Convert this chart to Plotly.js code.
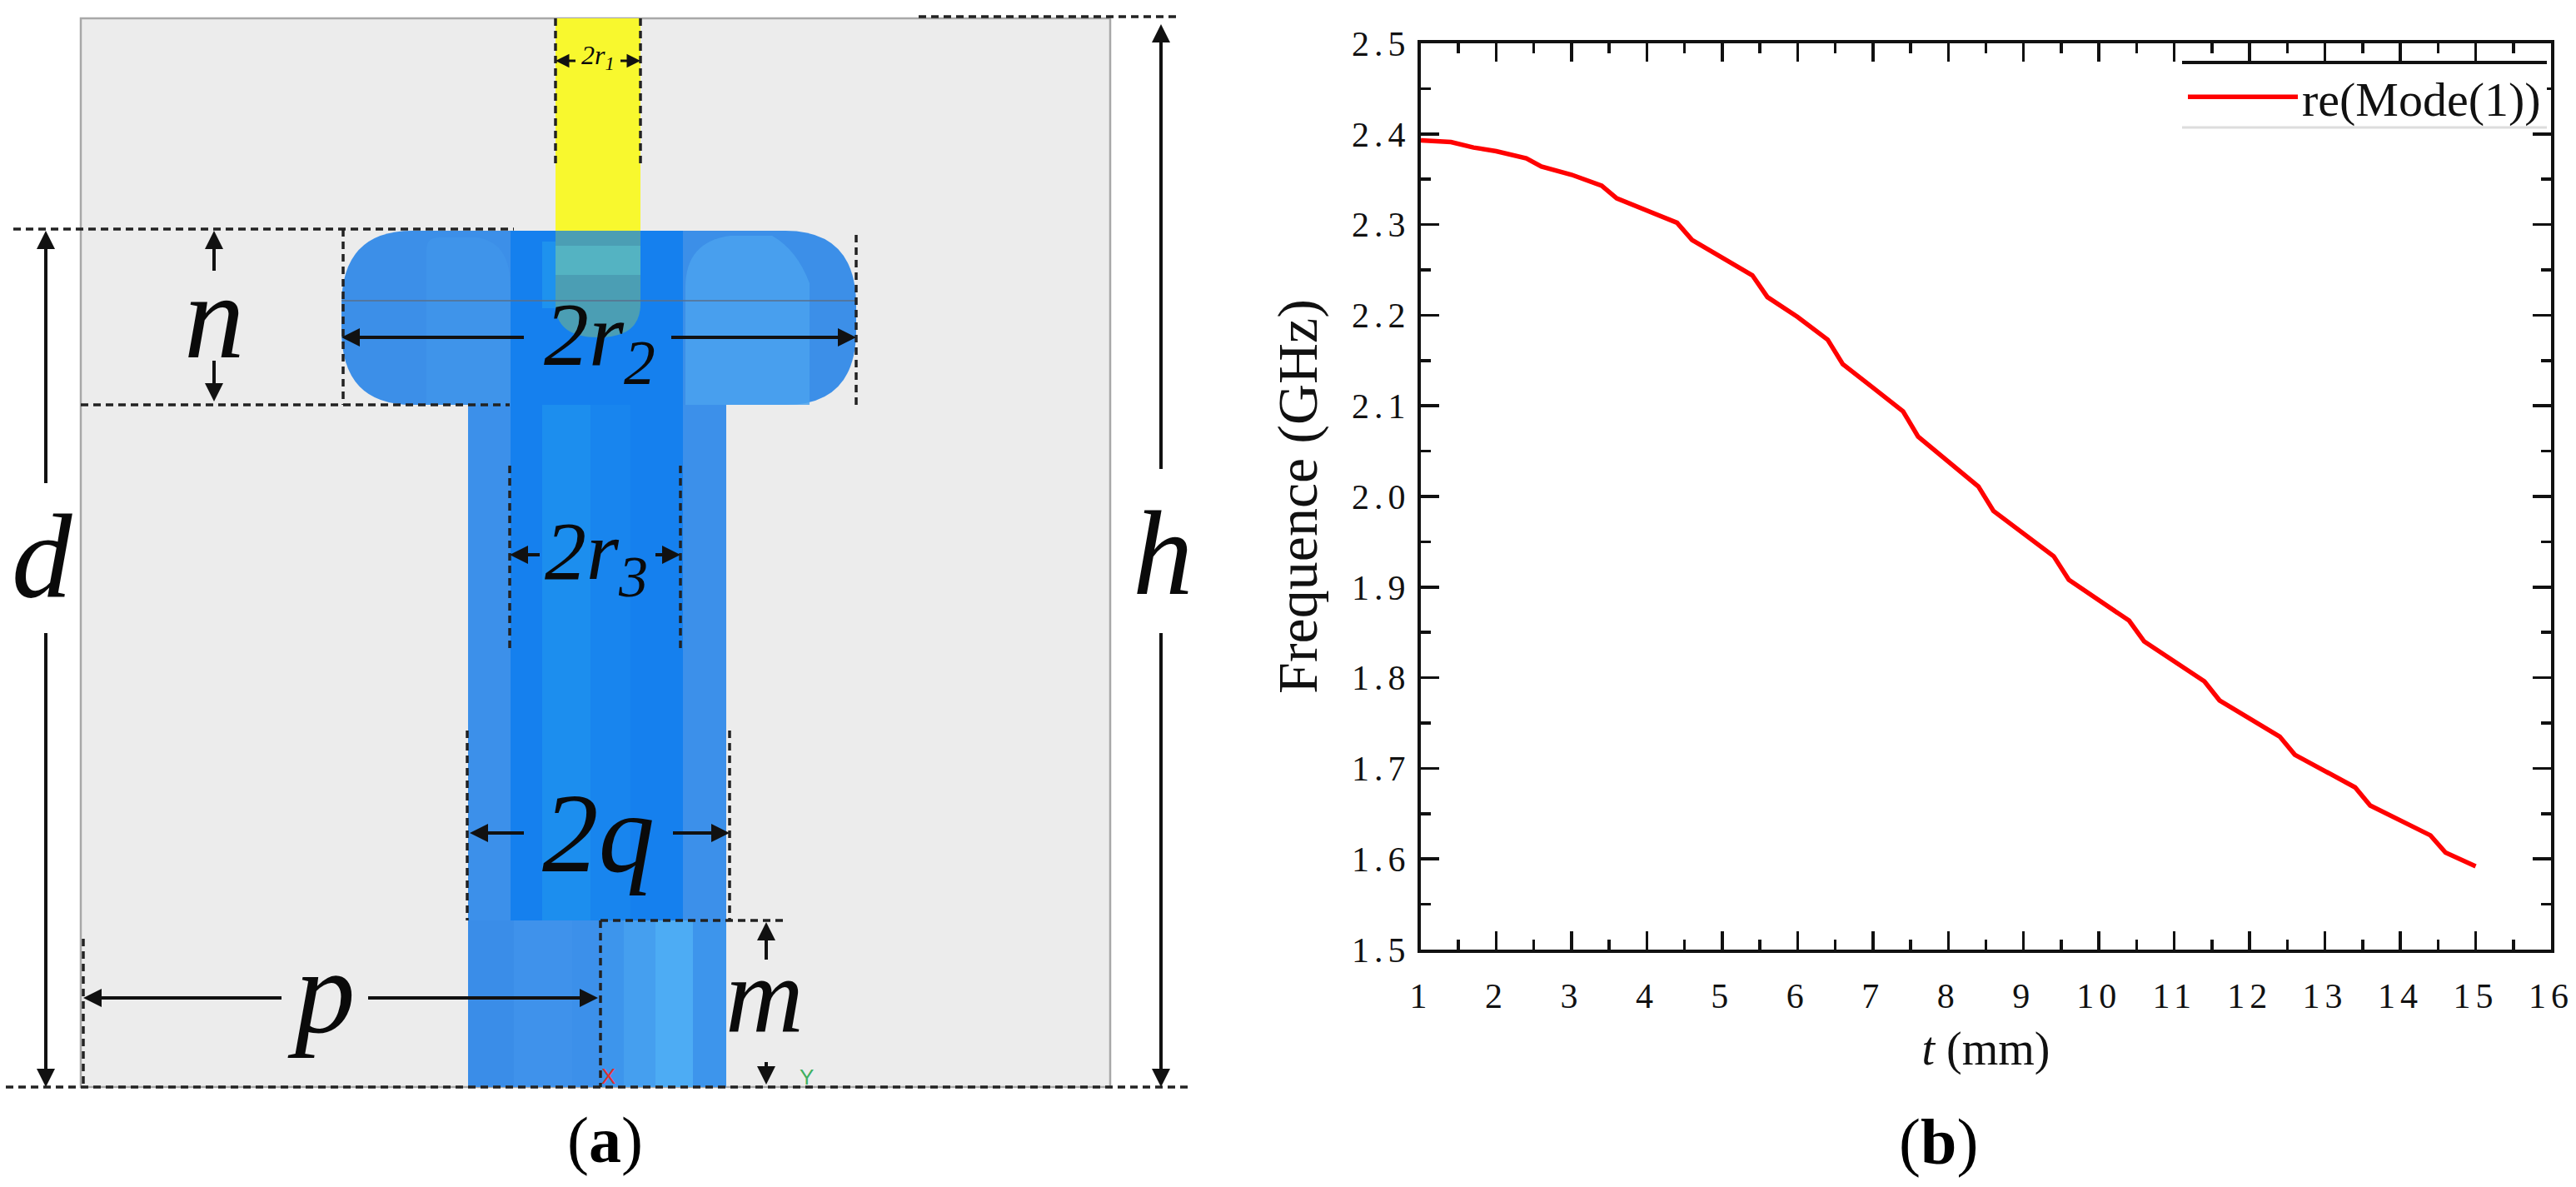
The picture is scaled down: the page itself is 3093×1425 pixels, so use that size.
<!DOCTYPE html>
<html><head><meta charset="utf-8">
<script src="https://cdn.plot.ly/plotly-3.0.1.min.js"></script>
<style>
html,body{margin:0;padding:0;background:#fff}
#g{width:3093px;height:1425px}
.xtick text,.ytick text{letter-spacing:6px}
</style></head><body><div id="g"></div>
<script>
const tValues=[1,1.4,1.7,2,2.4,2.6,3,3.4,3.6,4,4.4,4.6,5,5.4,5.6,6,6.4,6.6,7,7.4,7.6,8,8.4,8.6,9,9.4,9.6,10,10.4,10.6,11,11.4,11.6,12,12.4,12.6,13,13.4,13.6,14,14.4,14.6,15];
const freqValues=[2.393,2.391,2.385,2.381,2.373,2.364,2.355,2.343,2.329,2.316,2.302,2.283,2.264,2.244,2.220,2.198,2.173,2.146,2.120,2.094,2.066,2.039,2.011,1.984,1.959,1.934,1.908,1.886,1.863,1.840,1.818,1.796,1.775,1.755,1.735,1.715,1.697,1.679,1.659,1.642,1.626,1.607,1.592];
const seriesName='re(Mode(1))';
const xTitle='<i>t</i> (mm)';
const yTitle='Frequence (GHz)';

const W=3093,H=1425,SERIF='"Liberation Serif","Times New Roman",serif';
const DX=-3;
const s2=o=>Object.assign({xref:'x2',yref:'y2',layer:'above'},o);
const rect=(x0,y0,x1,y1,c,op)=>s2({type:'rect',x0:x0+DX,y0,x1:x1+DX,y1,fillcolor:c,opacity:op==null?1:op,line:{width:0}});
const path=(p,c,op)=>s2({type:'path',path:p,fillcolor:c,opacity:op==null?1:op,line:{width:0}});
const dash=(x0,y0,x1,y1)=>s2({type:'line',x0:x0+DX,y0,x1:x1+DX,y1,line:{color:'#222',width:3.5,dash:'9px,6px'}});
const rr=(x0,y0,x1,y1,rx,ry)=>`M${x0+rx},${y0} L${x1-rx},${y0} Q${x1},${y0} ${x1},${y0+ry} L${x1},${y1-ry} Q${x1},${y1} ${x1-rx},${y1} L${x0+rx},${y1} Q${x0},${y1} ${x0},${y1-ry} L${x0},${y0+ry} Q${x0},${y0} ${x0+rx},${y0} Z`;

const shapes=[
 rect(100,22,1336,1305,'#ececec'),
 s2({type:'rect',x0:97,y0:22,x1:1333,y1:1305,line:{color:'#a8a8a8',width:2.5}}),
 rect(670,22,772,290,'#f8f82e'),
 rect(565,486,875,1305,'#3c90ea'),
 rect(726,1105,875,1305,'#3d95ec'),
 rect(752,1105,790,1305,'#459fef'),
 rect(790,1105,835,1305,'#4dacf4'),
 rect(565,1105,620,1305,'#3a8de8'),
 rect(620,1105,690,1305,'#3f92eb'),
 path(rr(410,277,1028,486,85,90),'#3c8fe8'),
 path(`M512,300 Q512,285 527,285 L572,285 Q613,290 613,345 L613,486 L512,486 Z`,'#4095ea',0.8),
 path(`M823,486 L823,345 Q823,290 877,283 L927,283 Q957,300 972,340 L972,486 Z`,'#4aa2ee',0.85),
 rect(616,277,823,1105,'#1580ee'),
 rect(654,486,712,1105,'#1c8eee'),
 rect(712,486,760,1105,'#1885ee'),
 rect(654,290,772,370,'#1e92ee'),
 path(`M667,277 L769,277 L769,365 Q769,405 718,405 Q667,405 667,365 Z`,'#4b9eb4'),
 rect(670,295,772,330,'#58bcc8',0.7),
 s2({type:'line',x0:410,y0:361,x1:1028,y1:361,line:{color:'#5a6f8a',width:1.5}}),
 dash(1106,20,1418,20),dash(10,1305,1433,1305),
 dash(670,22,670,202),dash(772,22,772,202),
 dash(19,275,620,275),dash(100,486,615,486),
 dash(415,275,415,486),dash(1031,282,1031,486),
 dash(615,559,615,784),dash(820,559,820,784),
 dash(564,877,564,1105),dash(879,877,879,1105),
 dash(724,1105,947,1105),dash(724,1105,724,1305),
 dash(103,1127,103,1305),
 {type:'rect',xref:'paper',yref:'paper',x0:2620/W,x1:3058/W,y0:1-75/H,y1:1-153/H,fillcolor:'#fff',line:{width:0},layer:'above'},
 {type:'line',xref:'paper',yref:'paper',x0:2620/W,x1:3058/W,y0:1-75/H,y1:1-75/H,line:{color:'#111',width:4}},
 {type:'line',xref:'paper',yref:'paper',x0:2620/W,x1:3058/W,y0:1-153/H,y1:1-153/H,line:{color:'#ddd',width:3}},
];

const arrow=(x0,y0,x1,y1,w)=>({xref:'x2',yref:'y2',axref:'x2',ayref:'y2',x:x1+DX,y:y1,ax:x0+DX,ay:y0,text:' ',showarrow:true,arrowhead:2,arrowsize:1.1,arrowwidth:w||4,arrowcolor:'#111',standoff:0,startstandoff:0});
const lbl=(x,y,t,size)=>({xref:'x2',yref:'y2',x:x+DX,y,text:t,showarrow:false,xanchor:'center',yanchor:'middle',font:{family:SERIF,size,color:'#0a0a0a'}});
const annotations=[
 arrow(58,590,58,277),arrow(58,750,58,1305),
 arrow(1397,573,1397,29),arrow(1397,750,1397,1305),
 arrow(260,335,260,277),arrow(260,423,260,482),
 arrow(635,405,413,405),arrow(806,405,1031,405),
 arrow(654,666,615,666),arrow(787,666,820,666),
 arrow(635,1000,567,1000),arrow(808,1000,879,1000),
 arrow(923,1162,923,1107),arrow(923,1265,923,1302),
 arrow(344,1198,103,1198),arrow(442,1198,721,1198),
 arrow(697,73,670,73,3),arrow(745,73,772,73,3),
 lbl(53,668,'<i>d</i>',145),lbl(1399,664,'<i>h</i>',145),
 lbl(260,380,'<i>n</i>',145),lbl(389,1190,'<i>p</i>',145),
 lbl(921,1195,'<i>m</i>',130),lbl(721,1000,'<i>2q</i>',135),
 lbl(719,668,'<i>2r<sub>3</sub></i>',100),lbl(723,409,'<i>2r<sub>2</sub></i>',108),
 lbl(721,68,'<i>2r<sub>1</sub></i>',32),
 {xref:'x2',yref:'y2',x:726,y:1368,text:'(<b>a</b>)',showarrow:false,font:{family:SERIF,size:78,color:'#000'}},
 {xref:'paper',yref:'paper',x:2327/W,y:1-1370/H,text:'(<b>b</b>)',showarrow:false,xanchor:'center',yanchor:'middle',font:{family:SERIF,size:78,color:'#000'}},
 {xref:'x2',yref:'y2',x:730,y:1292,text:'X',showarrow:false,font:{family:'Liberation Sans',size:26,color:'#e03030'}},
 {xref:'x2',yref:'y2',x:968,y:1293,text:'Y',showarrow:false,font:{family:'Liberation Sans',size:26,color:'#40b060'}},
];

const tickBase={ticks:'inside',ticklen:22,tickwidth:3.5,tickcolor:'#111',showline:true,linecolor:'#111',linewidth:4,mirror:'ticks',showgrid:false,zeroline:false,
 tickfont:{family:SERIF,size:42,color:'#111'},minor:{ticks:'inside',ticklen:12,tickwidth:3.5,tickcolor:'#111',showgrid:false}};

const traces=[{x:tValues,y:freqValues,name:seriesName,type:'scatter',mode:'lines',line:{color:'#ff0000',width:5.5},xaxis:'x',yaxis:'y',showlegend:true}];
const layout={width:W,height:H,margin:{l:0,r:0,t:0,b:0,pad:0},paper_bgcolor:'#fff',plot_bgcolor:'#fff',
 xaxis:Object.assign({},tickBase,{domain:[1706/W,3063/W],range:[1,16],dtick:1,tick0:1,anchor:'y',ticklabelstandoff:16,
   minor:Object.assign({},tickBase.minor,{dtick:0.5}),
   title:{text:xTitle,font:{family:SERIF,size:56,color:'#111'},standoff:21}}),
 yaxis:Object.assign({},tickBase,{domain:[1-1140/H,1-52/H],range:[1.5,2.5],dtick:0.1,tick0:1.5,tickformat:'.1f',anchor:'x',ticklabelstandoff:0,
   minor:Object.assign({},tickBase.minor,{dtick:0.05}),
   title:{text:yTitle,font:{family:SERIF,size:68,color:'#111'},standoff:20}}),
 xaxis2:{domain:[0,1500/W],range:[0,1500],anchor:'y2',visible:false,fixedrange:true},
 yaxis2:{domain:[0,1],range:[1425,0],anchor:'x2',visible:false,fixedrange:true},
 legend:{x:2622/W,y:1-72/H,xanchor:'left',yanchor:'top',bgcolor:'rgba(0,0,0,0)',borderwidth:0,itemwidth:132,font:{family:SERIF,size:58,color:'#111'},tracegroupgap:0},
 shapes,annotations,showlegend:true};
Plotly.newPlot('g',traces,layout,{displayModeBar:false,staticPlot:true});
</script></body></html>
